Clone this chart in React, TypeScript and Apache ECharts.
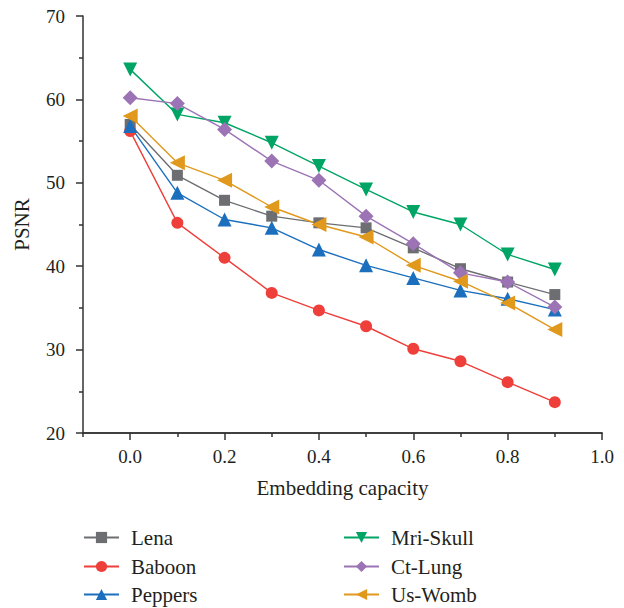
import React, { useEffect, useRef } from "react";
import * as echarts from "echarts";

const capacity = [0, 0.1, 0.2, 0.3, 0.4, 0.5, 0.6, 0.7, 0.8, 0.9];
const lena = [57.0, 50.9, 47.9, 46.0, 45.2, 44.6, 42.2, 39.7, 38.1, 36.6];
const baboon = [56.2, 45.2, 41.0, 36.8, 34.7, 32.8, 30.1, 28.6, 26.1, 23.7];
const peppers = [56.8, 48.8, 45.6, 44.6, 42.0, 40.1, 38.6, 37.1, 36.1, 34.8];
const mriSkull = [63.6, 58.2, 57.2, 54.8, 52.0, 49.2, 46.5, 45.0, 41.4, 39.6];
const ctLung = [60.2, 59.5, 56.4, 52.6, 50.3, 46.0, 42.7, 39.2, 38.1, 35.1];
const usWomb = [58.0, 52.4, 50.3, 47.1, 45.0, 43.5, 40.1, 38.2, 35.6, 32.4];

const xMajorTicks = [0, 0.2, 0.4, 0.6, 0.8, 1.0];
const xMinorTicks = [-0.1, 0.1, 0.3, 0.5, 0.7, 0.9];

const FONT = "Liberation Serif";
const AXIS_COLOR = "#333333";
const TEXT_COLOR = "#231f20";

const seriesDefs = [
  { name: "Lena", data: lena, color: "#6d6e71", symbol: "rect", size: 11, rotate: 0 },
  { name: "Baboon", data: baboon, color: "#ee3f3a", symbol: "circle", size: 12, rotate: 0 },
  { name: "Peppers", data: peppers, color: "#1b6fbd", symbol: "triangle", size: 14, rotate: 0 },
  { name: "Mri-Skull", data: mriSkull, color: "#00a565", symbol: "triangle", size: 14, rotate: 180 },
  { name: "Ct-Lung", data: ctLung, color: "#9c74b5", symbol: "diamond", size: 15, rotate: 0 },
  { name: "Us-Womb", data: usWomb, color: "#e0991c", symbol: "triangle", size: 15, rotate: 90 },
];

const legendSlots = [
  { left: 83, top: 527 },
  { left: 83, top: 556 },
  { left: 83, top: 584 },
  { left: 343, top: 527 },
  { left: 343, top: 556 },
  { left: 343, top: 584 },
];

const tickRich = { t: { fontFamily: FONT, fontSize: 19, color: TEXT_COLOR } };

export default function App() {
  const ref = useRef<HTMLDivElement>(null);
  useEffect(() => {
    if (!ref.current) return;
    const chart = echarts.init(ref.current, null, { renderer: "svg" });
    chart.setOption({
      animation: false,
      backgroundColor: "#ffffff",
      textStyle: { fontFamily: FONT, color: TEXT_COLOR },
      grid: { left: 83, right: 22, top: 16, bottom: 175, containLabel: false },
      legend: seriesDefs.map((s, i) => ({
        left: legendSlots[i].left,
        top: legendSlots[i].top,
        orient: "horizontal",
        padding: 0,
        itemWidth: 35,
        itemHeight: 14,
        data: [s.name],
        formatter: (name: string) => `{t|${name}}`,
        textStyle: {
          fontFamily: FONT,
          fontSize: 21,
          color: TEXT_COLOR,
          rich: { t: { fontFamily: FONT, fontSize: 21, color: TEXT_COLOR, padding: [0, 0, 0, 7] } },
        },
      })),
      xAxis: [
        {
          type: "value",
          min: -0.1,
          max: 1.0,
          position: "bottom",
          name: "Embedding capacity",
          nameLocation: "middle",
          nameGap: 44,
          nameTextStyle: { fontFamily: FONT, fontSize: 21, color: TEXT_COLOR },
          axisLine: { show: true, onZero: false, lineStyle: { color: AXIS_COLOR, width: 1.5 } },
          axisTick: { show: true, customValues: xMajorTicks, length: 7, lineStyle: { color: AXIS_COLOR, width: 1.5 } },
          axisLabel: {
            customValues: xMajorTicks,
            margin: 14,
            fontFamily: FONT,
            fontSize: 19,
            color: TEXT_COLOR,
            formatter: (v: number) => `{t|${v.toFixed(1)}}`,
            rich: tickRich,
          },
          splitLine: { show: false },
        },
        {
          type: "value",
          min: -0.1,
          max: 1.0,
          position: "bottom",
          offset: 0,
          axisLine: { show: true, onZero: false, lineStyle: { color: AXIS_COLOR, width: 1.5 } },
          axisTick: { show: true, customValues: xMinorTicks, length: 4, lineStyle: { color: AXIS_COLOR, width: 1.5 } },
          axisLabel: { show: false },
          splitLine: { show: false },
        },
      ],
      yAxis: {
        type: "value",
        min: 20,
        max: 70,
        interval: 10,
        name: "PSNR",
        nameLocation: "middle",
        nameGap: 51,
        nameTextStyle: { fontFamily: FONT, fontSize: 21, color: TEXT_COLOR },
        axisLine: { show: true, onZero: false, lineStyle: { color: AXIS_COLOR, width: 1.5 } },
        axisTick: { show: true, length: 7, lineStyle: { color: AXIS_COLOR, width: 1.5 } },
        minorTick: { show: true, splitNumber: 2, length: 4, lineStyle: { color: AXIS_COLOR, width: 1.5 } },
        axisLabel: {
          margin: 18,
          fontFamily: FONT,
          fontSize: 19,
          color: TEXT_COLOR,
          formatter: (v: number) => `{t|${v}}`,
          rich: tickRich,
        },
        splitLine: { show: false },
        minorSplitLine: { show: false },
      },
      series: seriesDefs.map((s) => ({
        name: s.name,
        type: "line",
        xAxisIndex: 0,
        data: capacity.map((x, i) => [x, s.data[i]]),
        symbol: s.symbol,
        symbolSize: s.size,
        symbolRotate: s.rotate,
        showSymbol: true,
        itemStyle: { color: s.color },
        lineStyle: { color: s.color, width: 1.4 },
        emphasis: { disabled: true },
      })),
    });
    return () => chart.dispose();
  }, []);
  return (
    <div
      ref={ref}
      style={{ position: "fixed", left: 0, top: 0, width: 624, height: 608, background: "#fff" }}
    />
  );
}
